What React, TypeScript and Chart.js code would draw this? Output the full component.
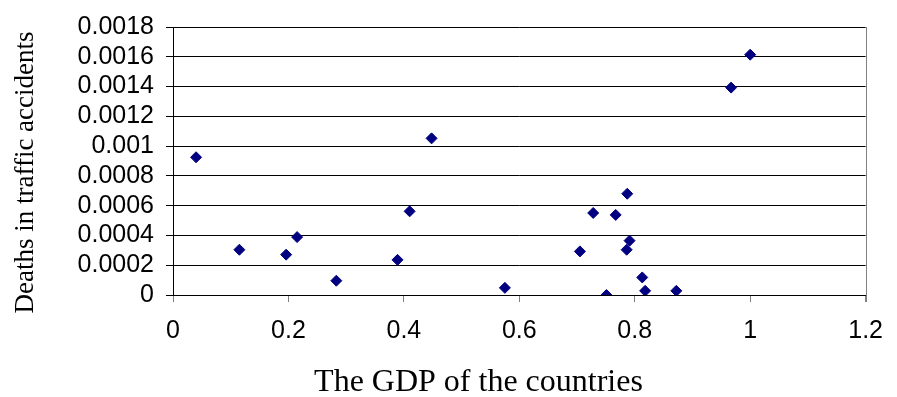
import React, { useEffect, useRef } from "react";
import { Chart, registerables } from "chart.js";

Chart.register(...registerables);

const gdp = [0.04, 0.115, 0.196, 0.215, 0.283, 0.389, 0.41, 0.448, 0.575, 0.705, 0.728, 0.751, 0.767, 0.786, 0.787, 0.791, 0.813, 0.818, 0.872, 0.967, 1.0];
const deaths = [0.000925, 0.000304, 0.000271, 0.000389, 0.000096, 0.000236, 0.000562, 0.001052, 0.000048, 0.000293, 0.000551, 0.0, 0.000538, 0.000304, 0.00068, 0.000365, 0.000118, 0.000028, 0.000028, 0.001393, 0.001614];

const xTitle = "The GDP of the countries";
const yTitle = "Deaths in traffic accidents";

const xMin = 0;
const xMax = 1.2;
const xStep = 0.2;
const yMin = 0;
const yMax = 0.0018;
const yStep = 0.0002;

const framePlugin = {
  id: "frameAndTitles",
  afterDraw(chart: any) {
    const { ctx, chartArea: a } = chart;
    ctx.save();
    ctx.strokeStyle = "#808080";
    ctx.lineWidth = 1;
    ctx.beginPath();
    const rx = Math.round(a.right) + 0.5;
    ctx.moveTo(rx, a.top);
    ctx.lineTo(rx, a.bottom + 7);
    ctx.stroke();

    ctx.fillStyle = "#000";
    ctx.textAlign = "center";
    ctx.textBaseline = "alphabetic";
    ctx.font = "32px 'Liberation Serif'";
    ctx.fillText(xTitle, 478.5, 391);

    ctx.translate(33, 172.5);
    ctx.rotate(-Math.PI / 2);
    ctx.font = "27px 'Liberation Serif'";
    ctx.fillText(yTitle, 0, 0);
    ctx.restore();
  },
};

export default function App() {
  const ref = useRef<HTMLCanvasElement>(null);

  useEffect(() => {
    if (!ref.current) return;
    const points = gdp.map((x, i) => ({ x, y: deaths[i] }));
    const chart = new Chart(ref.current, {
      type: "scatter",
      data: {
        datasets: [
          {
            data: points,
            pointStyle: "rectRot",
            pointRadius: 5.5,
            pointHoverRadius: 5.5,
            backgroundColor: "#000080",
            borderColor: "#000080",
            borderWidth: 1,
          },
        ],
      },
      options: {
        animation: false,
        responsive: true,
        maintainAspectRatio: false,
        layout: { padding: { top: 21, right: 21, bottom: 42, left: 0 } },
        plugins: {
          legend: { display: false },
          tooltip: { enabled: false },
        },
        scales: {
          x: {
            type: "linear",
            min: xMin,
            max: xMax,
            afterFit: (s: any) => {
              s.height = 60;
            },
            ticks: {
              stepSize: xStep,
              autoSkip: false,
              padding: 14,
              color: "#000",
              font: { family: "'Liberation Sans'", size: 25 },
              callback: (v: any) => String(Number(Number(v).toFixed(1))),
              maxRotation: 0,
            },
            grid: {
              display: true,
              drawOnChartArea: false,
              drawTicks: true,
              tickLength: 7,
              tickColor: "#808080",
            },
            border: { display: true, color: "#000", width: 1 },
          },
          y: {
            type: "linear",
            min: yMin,
            max: yMax,
            afterFit: (s: any) => {
              s.width = 173;
            },
            ticks: {
              stepSize: yStep,
              autoSkip: false,
              padding: 12,
              color: "#000",
              font: { family: "'Liberation Sans'", size: 25 },
              callback: (v: any) => String(Number(Number(v).toFixed(4))),
            },
            grid: {
              display: true,
              drawOnChartArea: true,
              color: "#000",
              lineWidth: 1,
              tickLength: 7,
              tickColor: "#000",
            },
            border: { display: true, color: "#000", width: 1 },
          },
        },
      },
      plugins: [framePlugin],
    });
    return () => chart.destroy();
  }, []);

  return (
    <div style={{ position: "absolute", left: 0, top: 0, width: 897, height: 397, background: "#fff" }}>
      <canvas ref={ref} />
    </div>
  );
}
